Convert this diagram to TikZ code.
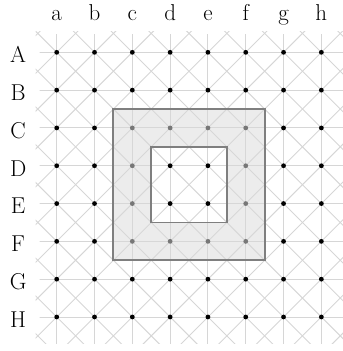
\documentclass[tikz,border=0pt]{standalone}
\usepackage{tikz}
\usetikzlibrary{calc}
\definecolor{gridgray}{HTML}{D6D6D6}
\definecolor{framegray}{HTML}{7F7F7F}
\definecolor{dotgray}{HTML}{777777}

\begin{document}
\begin{tikzpicture}[
  gridline/.style = {draw=gridgray, line width=0.7pt},
  dot/.style = {circle, fill=black, inner sep=0pt, minimum size=3.6pt},
  greydot/.style = {dot, fill=dotgray},
  regionfill/.style = {fill=black!15, fill opacity=0.5, even odd rule},
  regionframe/.style = {draw=framegray, line width=1.4pt},
  lbl/.style = {font=\LARGE, anchor=base},
]
\useasboundingbox (-1.5,-7.9) rectangle (7.55,1.384);
% straight grid lines
\begin{scope}
  \clip (-0.45,-7.69) rectangle (7.6,0.46);
  \foreach \i in {0,...,7} {
    \draw[gridline] (\i,1) -- (\i,-8.5);
    \draw[gridline] (-1,-\i) -- (8,-\i);
  }
\end{scope}
% diagonals
\begin{scope}
  \clip (-0.56,-7.69) rectangle (7.6,0.56);
  \foreach \k in {-1,...,15}
    \draw[gridline] (\k-10,-10) -- (\k+2,2);
  \foreach \k in {-8,...,8}
    \draw[gridline] (-2,\k+2) -- (10,\k-10);
\end{scope}
% shaded ring
\path[regionfill] (1.5,-1.5) rectangle (5.5,-5.5) (2.5,-2.5) rectangle (4.5,-4.5);
\draw[regionframe] (1.5,-1.5) rectangle (5.5,-5.5);
\draw[regionframe] (2.5,-2.5) rectangle (4.5,-4.5);
% dots
\foreach \c [count=\i from 0] in {a,...,h}
  \foreach \r [count=\j from 0] in {A,...,H} {
    \pgfmathtruncatemacro{\ring}{max(abs(2*\i-7),abs(2*\j-7))}
    \ifnum\ring=3 \def\dotstyle{greydot}\else\def\dotstyle{dot}\fi
    \node[\dotstyle] (\c\r) at (\i,-\j) {};
  }
% labels
\foreach \c [count=\i from 0] in {a,...,h}
  \node[lbl] (col-\c) at (\i,0.83) {\c};
\foreach \r [count=\j from 0] in {A,...,H}
  \node[lbl] (row-\r) at (-1.02,-\j-0.275) {\r};
\end{tikzpicture}
\end{document}
